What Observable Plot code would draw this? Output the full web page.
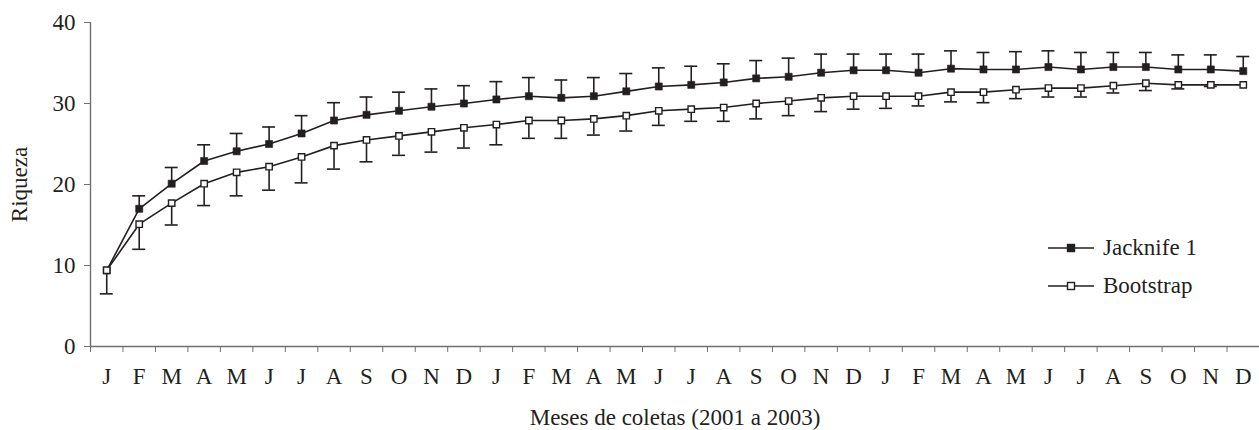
<!DOCTYPE html>
<html><head><meta charset="utf-8">
<script src="https://cdn.jsdelivr.net/npm/d3@7"></script>
<script src="https://cdn.jsdelivr.net/npm/@observablehq/plot@0.6"></script>
<style>
body{margin:0;background:#fff;font-family:"Liberation Serif","DejaVu Serif",serif;}
#wrap{position:relative;width:1259px;height:430px;overflow:hidden;}
#legend{position:absolute;left:1048px;top:233px;font-size:23px;color:#231f20;font-family:"Liberation Serif","DejaVu Serif",serif;}
#legend .row{display:flex;align-items:center;height:30px;margin-bottom:8px;white-space:nowrap;}
#legend svg{margin-right:9px;flex:none;}
</style></head><body><div id="wrap"><div id="legend"></div></div>
<script>
const monthLabels = ["J","F","M","A","M","J","J","A","S","O","N","D",
                     "J","F","M","A","M","J","J","A","S","O","N","D",
                     "J","F","M","A","M","J","J","A","S","O","N","D"];
const jackknife = [9.4,17.0,20.1,22.9,24.1,25.0,26.3,27.9,28.6,29.1,29.6,30.0,
                   30.5,30.9,30.7,30.9,31.5,32.1,32.3,32.6,33.1,33.3,33.8,34.1,
                   34.1,33.8,34.3,34.2,34.2,34.5,34.2,34.5,34.5,34.2,34.2,34.0];
const jackknifeUpper = [9.4,18.6,22.1,24.9,26.3,27.1,28.5,30.1,30.8,31.4,31.8,32.2,
                        32.7,33.2,32.9,33.2,33.7,34.4,34.6,34.9,35.3,35.6,36.1,36.1,
                        36.1,36.1,36.5,36.3,36.4,36.5,36.3,36.3,36.3,36.0,36.0,35.8];
const bootstrap = [9.4,15.1,17.7,20.1,21.5,22.2,23.4,24.8,25.5,26.0,26.5,27.0,
                   27.4,27.9,27.9,28.1,28.5,29.1,29.3,29.5,30.0,30.3,30.7,30.9,
                   30.9,30.9,31.4,31.4,31.7,31.9,31.9,32.2,32.5,32.3,32.3,32.3];
const bootstrapLower = [6.5,12.0,15.0,17.4,18.6,19.3,20.2,21.9,22.8,23.6,24.0,24.5,
                        24.9,25.7,25.7,26.1,26.6,27.3,27.8,27.8,28.1,28.5,29.0,29.3,
                        29.4,29.7,30.2,30.1,30.6,30.8,30.8,31.3,31.6,31.8,32.1,32.3];
const yTicks = [0,10,20,30,40];
const seriesNames = ["Jacknife 1","Bootstrap"];

const data = monthLabels.map((m,i)=>({i, m,
  jack: jackknife[i], jackUp: jackknifeUpper[i],
  boot: bootstrap[i], bootLo: bootstrapLower[i]}));

const ink = "#231f20";
const axisInk = "#707070";
const cap = 0.2;
const serif = '"Liberation Serif","DejaVu Serif",serif';
const xDomain = [-0.5, monthLabels.length - 0.5];
const jackBars = data.filter(d => d.jackUp > d.jack);
const bootBars = data.filter(d => d.bootLo < d.boot);

const chart = Plot.plot({
  width: 1259, height: 430,
  marginLeft: 90, marginRight: 0, marginTop: 22, marginBottom: 84,
  style: {fontFamily: serif, fontSize: "23px", color: ink, background: "#fff", overflow: "visible"},
  x: {domain: xDomain},
  y: {domain: [0, 40]},
  marks: [
    Plot.axisY({ticks: yTicks, tickSize: 6, tickPadding: 9, stroke: axisInk, fill: ink, fontFamily: serif,
      label: "Riqueza", labelAnchor: "center", labelArrow: "none", labelOffset: 80}),
    Plot.axisX({ticks: d3.range(xDomain[0], xDomain[1] + 0.01, 1), tickSize: 6, tickFormat: () => "", stroke: axisInk, fontFamily: serif,
      label: "Meses de coletas (2001 a 2003)", labelAnchor: "center", labelArrow: "none", labelOffset: 78}),
    Plot.axisX({ticks: d3.range(monthLabels.length), tickSize: 0, tickPadding: 21, tickFormat: i => monthLabels[i], fill: ink, fontFamily: serif, label: null}),
    Plot.ruleY([0], {stroke: axisInk, strokeWidth: 1.4}),
    Plot.ruleX([xDomain[0]], {y1: 0, y2: 40, stroke: axisInk, strokeWidth: 1.4}),
    // error bars
    Plot.ruleX(jackBars, {x: "i", y1: "jack", y2: "jackUp", stroke: ink, strokeWidth: 1.6}),
    Plot.ruleY(jackBars, {y: "jackUp", x1: d => d.i - cap, x2: d => d.i + cap, stroke: ink, strokeWidth: 1.6}),
    Plot.ruleX(bootBars, {x: "i", y1: "boot", y2: "bootLo", stroke: ink, strokeWidth: 1.6}),
    Plot.ruleY(bootBars, {y: "bootLo", x1: d => d.i - cap, x2: d => d.i + cap, stroke: ink, strokeWidth: 1.6}),
    // lines
    Plot.line(data, {x: "i", y: "jack", stroke: ink, strokeWidth: 1.6}),
    Plot.line(data, {x: "i", y: "boot", stroke: ink, strokeWidth: 1.6}),
    // markers
    Plot.dot(data, {x: "i", y: "jack", symbol: "square", r: 4, fill: ink, stroke: ink, strokeWidth: 0.6}),
    Plot.dot(data, {x: "i", y: "boot", symbol: "square", r: 3.6, fill: "#fff", stroke: ink, strokeWidth: 1.4})
  ]
});
const wrap = document.getElementById("wrap");
wrap.insertBefore(chart, wrap.firstChild);

const legend = document.getElementById("legend");
seriesNames.forEach((name, k) => {
  const row = document.createElement("div");
  row.className = "row";
  const fill = k === 0 ? ink : "#fff";
  row.innerHTML = `<svg width="46" height="12"><line x1="0" x2="46" y1="6" y2="6" stroke="${ink}" stroke-width="1.6"/><rect x="19.5" y="2.5" width="7" height="7" fill="${fill}" stroke="${ink}" stroke-width="1.4"/></svg><span>${name}</span>`;
  legend.appendChild(row);
});
</script></body></html>
